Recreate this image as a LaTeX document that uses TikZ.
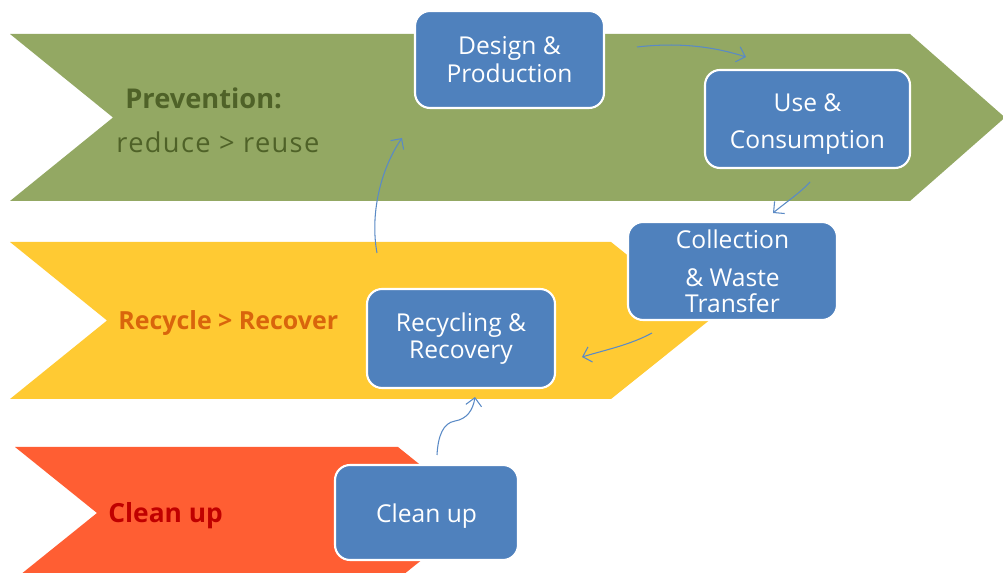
\documentclass[tikz,border=0pt]{standalone}
\usepackage{fontspec}
\setmainfont{Open Sans}
\usetikzlibrary{arrows.meta}
\definecolor{prevgreen}{HTML}{93A863}
\definecolor{recyellow}{HTML}{FFCA33}
\definecolor{cleanred}{HTML}{FF5E33}
\definecolor{stepblue}{HTML}{4F81BD}
\definecolor{flowblue}{HTML}{5A8AC6}
\definecolor{prevtext}{HTML}{4F6228}
\definecolor{rectext}{HTML}{D9650C}
\definecolor{cleantext}{HTML}{C00000}
\tikzstyle{stepbox}=[rectangle,rounded corners=0.3cm,fill=stepblue,draw=white,line width=1.2pt,text=white,align=center,inner sep=0pt,font=\fontsize{14}{15.5}\selectfont]
\tikzstyle{flow}=[draw=flowblue,line width=0.6pt,-{Straight Barb[length=4.5pt,width=9pt]}]
\tikzstyle{lbl}=[inner sep=0pt]

\begin{document}
\begin{tikzpicture}[x=0.02cm,y=-0.02cm]
\useasboundingbox (0,0) rectangle (1003,573);
\clip (0,0) rectangle (1003,573);
\fill[white] (0,0) rectangle (1003,573);
% chevrons
\fill[prevgreen] (10,34)--(910,34)--(1005,117.5)--(910,201)--(10,201)--(113,117.5)--cycle;
\fill[recyellow] (10,242)--(611,242)--(709,320.5)--(611,399)--(10,399)--(107,320.5)--cycle;
\fill[cleanred] (15,447)--(398,447)--(480,513)--(398,579)--(15,579)--(97,513)--cycle;
% stage labels
\node[lbl,text=prevtext,font=\fontsize{15.5}{18}\selectfont\bfseries,anchor=west] (prevlbl) at (125,98) {Prevention:};
\node[lbl,text=prevtext,font=\fontsize{15.5}{18}\selectfont\addfontfeature{LetterSpace=5},anchor=west] (reuselbl) at (116,142) {reduce > reuse};
\node[lbl,text=rectext,font=\fontsize{14.2}{18}\selectfont\bfseries,anchor=west] (reclbl) at (118,323) {Recycle > Recover};
\node[lbl,text=cleantext,font=\fontsize{15}{18}\selectfont\bfseries,anchor=west] (cleanlbl) at (108,516) {Clean up};
% steps
\node[stepbox,minimum width=3.78cm,minimum height=1.94cm] (design) at (509.5,59.5) {Design \&\\Production};
\node[stepbox,minimum width=4.1cm,minimum height=1.96cm] (use) at (807.5,119) {\raisebox{-3pt}[\height][\depth]{Use \&}\\[5.5pt]\raisebox{-3pt}[\height][\depth]{Consumption}};
\node[stepbox,minimum width=4.18cm,minimum height=1.96cm] (collect) at (732.5,271) {Collection\\[6.5pt]\& Waste\\[-1pt]Transfer};
\node[stepbox,minimum width=3.76cm,minimum height=1.98cm] (recycle) at (461,338.5) {Recycling \&\\Recovery};
\node[stepbox,minimum width=3.66cm,minimum height=1.9cm] (cleanup) at (426.5,512.5) {\raisebox{-2pt}[\height][\depth]{Clean up}};
% arrow ends
\coordinate (d1) at (637,47); \coordinate (u0) at (746,57);
\coordinate (u1) at (810,182); \coordinate (c0) at (773,213);
\coordinate (c1) at (652,333); \coordinate (r0) at (582,357);
\coordinate (k1) at (437,455); \coordinate (k2) at (455,421); \coordinate (r1) at (475,397);
\coordinate (r2) at (377,253); \coordinate (d0) at (402,138);
\draw[flow] (d1) .. controls (680,42) and (715,47) .. (u0);
\draw[flow] (u1) .. controls (800,193) and (785,203) .. (c0);
\draw[flow] (c1) .. controls (630,345) and (605,350) .. (r0);
\draw[flow] (k1) .. controls (438,436) and (443,423) .. (k2) .. controls (467,419) and (473,410) .. (r1);
\draw[flow] (r2) .. controls (370,215) and (380,170) .. (d0);
\end{tikzpicture}
\end{document}
